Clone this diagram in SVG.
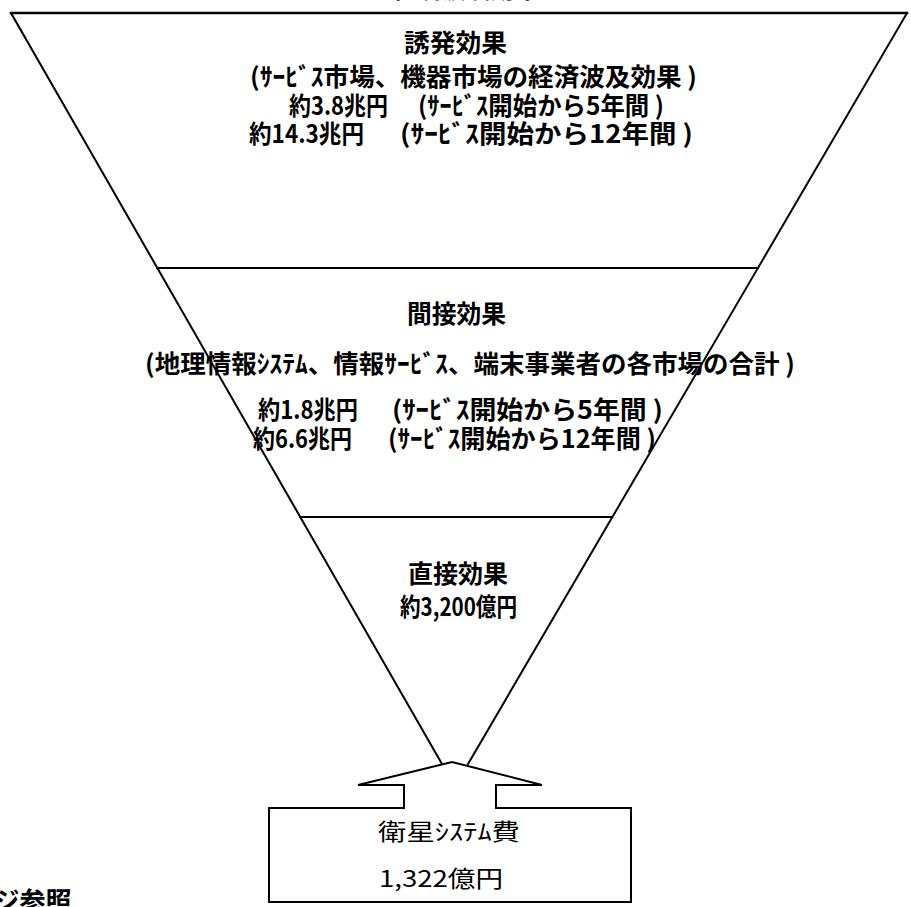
<svg xmlns="http://www.w3.org/2000/svg" width="911" height="907" viewBox="0 0 911 907">
  <style>
    .edge { stroke: #000; stroke-width: 2; fill: none; stroke-linecap: square; }
    .lbl { font-family: "Noto Sans CJK JP", "Noto Sans", sans-serif; font-weight: 700; font-size: 25px; fill: #000; }
    .box { font-family: "Noto Sans CJK JP", "Noto Sans", sans-serif; font-weight: 400; font-size: 23px; fill: #000; }
  </style>
  <rect x="0" y="0" width="911" height="907" fill="#fff"/>

  <!-- heading above the funnel, mostly outside the page -->
  <text class="lbl" x="368" y="-2" textLength="196" lengthAdjust="spacingAndGlyphs">（経済波及効果）</text>

  <!-- funnel outline and tier dividers -->
  <g id="connectors">
    <line class="edge" x1="11" y1="13" x2="907" y2="13" style="stroke-width:2.5"/>
    <line class="edge" x1="11" y1="13" x2="442" y2="764"/>
    <line class="edge" x1="907" y1="13" x2="468" y2="764"/>
    <line class="edge" x1="157" y1="268" x2="758" y2="268"/>
    <line class="edge" x1="300" y1="517" x2="612" y2="517"/>
  </g>

  <!-- induced effect tier -->
  <g id="induced">
    <text class="lbl" x="404" y="52" textLength="103" lengthAdjust="spacingAndGlyphs">誘発効果</text>
    <text class="lbl" x="250" y="86" textLength="447" lengthAdjust="spacingAndGlyphs">(ｻｰﾋﾞｽ市場、機器市場の経済波及効果 )</text>
    <text class="lbl" x="289" y="115" textLength="99" lengthAdjust="spacingAndGlyphs">約3.8兆円</text>
    <text class="lbl" x="418" y="115" textLength="246" lengthAdjust="spacingAndGlyphs">(ｻｰﾋﾞｽ開始から5年間 )</text>
    <text class="lbl" x="249" y="143" textLength="115" lengthAdjust="spacingAndGlyphs">約14.3兆円</text>
    <text class="lbl" x="400" y="143" textLength="293" lengthAdjust="spacingAndGlyphs">(ｻｰﾋﾞｽ開始から12年間 )</text>
  </g>

  <!-- indirect effect tier -->
  <g id="indirect">
    <text class="lbl" x="407" y="323" textLength="99" lengthAdjust="spacingAndGlyphs">間接効果</text>
    <text class="lbl" x="145" y="373" textLength="650" lengthAdjust="spacingAndGlyphs">(地理情報ｼｽﾃﾑ、情報ｻｰﾋﾞｽ、端末事業者の各市場の合計 )</text>
    <text class="lbl" x="258" y="419" textLength="100" lengthAdjust="spacingAndGlyphs">約1.8兆円</text>
    <text class="lbl" x="392" y="419" textLength="271" lengthAdjust="spacingAndGlyphs">(ｻｰﾋﾞｽ開始から5年間 )</text>
    <text class="lbl" x="253" y="448" textLength="99" lengthAdjust="spacingAndGlyphs">約6.6兆円</text>
    <text class="lbl" x="388" y="448" textLength="268" lengthAdjust="spacingAndGlyphs">(ｻｰﾋﾞｽ開始から12年間 )</text>
  </g>

  <!-- direct effect tier -->
  <g id="direct">
    <text class="lbl" x="408" y="583" textLength="100" lengthAdjust="spacingAndGlyphs">直接効果</text>
    <text class="lbl" x="400" y="616" textLength="117" lengthAdjust="spacingAndGlyphs">約3,200億円</text>
  </g>

  <!-- satellite system cost with upward block arrow -->
  <g id="satellite-cost">
    <path d="M269,808 L404,808 L404,785 L358,785 L452,762 L542,785 L496,785 L496,808 L631,808 L631,902 L269,902 Z" fill="#fff" stroke="#000" stroke-width="2" stroke-linejoin="miter"/>
    <text class="box" x="378" y="840" textLength="142" lengthAdjust="spacingAndGlyphs">衛星ｼｽﾃﾑ費</text>
    <text class="box" x="379" y="887" textLength="124" lengthAdjust="spacingAndGlyphs">1,322億円</text>
  </g>

  <!-- reference note at the lower left, partly outside the page -->
  <g id="note">
    <text class="lbl" x="-58" y="911" style="font-size:26px">ページ参照</text>
  </g>
</svg>
